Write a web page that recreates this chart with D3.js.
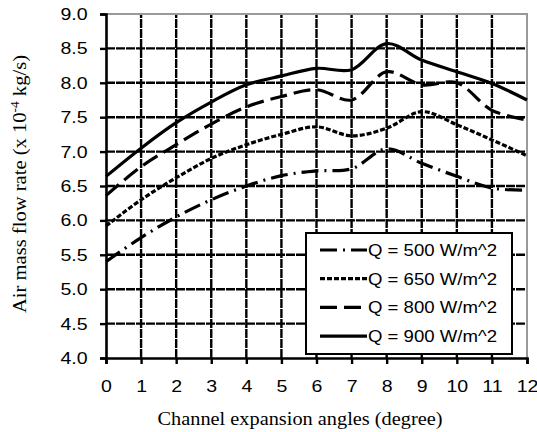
<!DOCTYPE html>
<html>
<head>
<meta charset="utf-8">
<script src="https://cdn.jsdelivr.net/npm/d3@7"></script>
<style>
  body { margin: 0; background: #fff; }
  svg { display: block; }
</style>
</head>
<body>
<div id="chart"></div>
<script>
// data
var angles = [0, 1, 2, 3, 4, 5, 6, 7, 8, 9, 10, 11, 12]
var q500 = [5.40, 5.75, 6.05, 6.30, 6.50, 6.65, 6.72, 6.75, 7.04, 6.83, 6.64, 6.47, 6.44]
var q650 = [5.92, 6.30, 6.62, 6.90, 7.10, 7.25, 7.36, 7.23, 7.34, 7.58, 7.39, 7.17, 6.94]
var q800 = [6.36, 6.78, 7.10, 7.40, 7.65, 7.80, 7.90, 7.75, 8.16, 7.97, 8.00, 7.60, 7.46]
var q900 = [6.64, 7.05, 7.42, 7.72, 7.97, 8.10, 8.21, 8.19, 8.57, 8.33, 8.16, 7.99, 7.75]
var seriesNames = ["Q = 500 W/m^2", "Q = 650 W/m^2", "Q = 800 W/m^2", "Q = 900 W/m^2"]
var yTicks = [4.0, 4.5, 5.0, 5.5, 6.0, 6.5, 7.0, 7.5, 8.0, 8.5, 9.0]

var series = [
  { name: seriesNames[0], values: q500, dash: "17,6,2,6" },
  { name: seriesNames[1], values: q650, dash: "5,2" },
  { name: seriesNames[2], values: q800, dash: "17,7" },
  { name: seriesNames[3], values: q900, dash: null }
]

var width = 537, height = 432
var margin = { left: 106, right: 10, top: 14, bottom: 74 }
var sans = "Liberation Sans, Arial, sans-serif"
var serif = "Liberation Serif, Times New Roman, serif"

var svg = d3.select("#chart").append("svg")
  .attr("width", width)
  .attr("height", height)

var x = d3.scaleLinear().domain([0, 12]).range([margin.left, width - margin.right])
var y = d3.scaleLinear().domain([4, 9]).range([height - margin.bottom, margin.top])

// grid
var grid = svg.append("g").attr("class", "grid")
grid.selectAll("line.gh")
  .data(yTicks.slice(1, -1))
  .join("line")
  .attr("class", "gh")
  .attr("x1", x(0)).attr("x2", x(12))
  .attr("y1", d => y(d)).attr("y2", d => y(d))
grid.selectAll("line.gv")
  .data(angles.slice(1, -1))
  .join("line")
  .attr("class", "gv")
  .attr("y1", y(4)).attr("y2", y(9))
  .attr("x1", d => x(d)).attr("x2", d => x(d))
grid.selectAll("line")
  .attr("stroke", "#000")
  .attr("stroke-width", 2.4)
  .attr("stroke-dasharray", "9,1")

// gray frame top and right
svg.append("path")
  .attr("d", `M${x(0)},${y(9)}H${x(12)}V${y(4)}`)
  .attr("fill", "none").attr("stroke", "#999").attr("stroke-width", 2)

// axes
var xAxis = svg.append("g")
  .attr("transform", `translate(0,${y(4)})`)
  .call(d3.axisBottom(x).tickValues(angles).tickSize(6).tickPadding(16).tickFormat(d3.format("d")))
var yAxis = svg.append("g")
  .attr("transform", `translate(${x(0)},0)`)
  .call(d3.axisLeft(y).tickValues(yTicks).tickSize(6).tickPadding(10).tickFormat(d3.format(".1f")))

;[xAxis, yAxis].forEach(function (a) {
  a.select(".domain").attr("stroke", "#000").attr("stroke-width", 2.6)
  a.selectAll(".tick line").attr("stroke", "#000").attr("stroke-width", 2.4)
  a.selectAll("text")
    .attr("font-family", sans)
    .attr("font-size", 17)
    .attr("fill", "#000")
    .attr("transform", "scale(1.15,1)")
})

// lines
var line = d3.line()
  .x((d, i) => x(angles[i]))
  .y(d => y(d))
  .curve(d3.curveCatmullRom.alpha(0.5))

svg.append("g").selectAll("path")
  .data(series)
  .join("path")
  .attr("d", d => line(d.values))
  .attr("fill", "none")
  .attr("stroke", "#000")
  .attr("stroke-width", 3.2)
  .attr("stroke-dasharray", d => d.dash)

// legend
var lg = svg.append("g")
lg.append("rect")
  .attr("x", 306).attr("y", 233)
  .attr("width", 206).attr("height", 121)
  .attr("fill", "#fff").attr("stroke", "#000").attr("stroke-width", 2)

var rows = lg.selectAll("g.row")
  .data(series)
  .join("g")
  .attr("class", "row")
  .attr("transform", (d, i) => `translate(0,${250 + i * 28.7})`)
rows.append("line")
  .attr("x1", 320).attr("x2", 367)
  .attr("stroke", "#000").attr("stroke-width", 3.2)
  .attr("stroke-dasharray", d => d.dash)
rows.append("text")
  .attr("x", 368).attr("dy", "0.36em")
  .attr("font-family", sans)
  .attr("font-size", 16.5)
  .attr("textLength", 129)
  .attr("lengthAdjust", "spacingAndGlyphs")
  .text(d => d.name)

// axis titles
svg.append("text")
  .attr("x", 300).attr("y", 425)
  .attr("text-anchor", "middle")
  .attr("font-family", serif)
  .attr("font-size", 18.5)
  .attr("textLength", 285)
  .attr("lengthAdjust", "spacingAndGlyphs")
  .text("Channel expansion angles (degree)")

var yt = svg.append("text")
  .attr("transform", `translate(26,184) rotate(-90)`)
  .attr("text-anchor", "middle")
  .attr("font-family", serif)
  .attr("font-size", 18.5)
  .attr("textLength", 258)
  .attr("lengthAdjust", "spacingAndGlyphs")
yt.append("tspan").text("Air mass flow rate (x 10")
yt.append("tspan").attr("dy", -7).attr("font-size", 12).text("-4")
yt.append("tspan").attr("dy", 7).text(" kg/s)")
</script>
</body>
</html>
